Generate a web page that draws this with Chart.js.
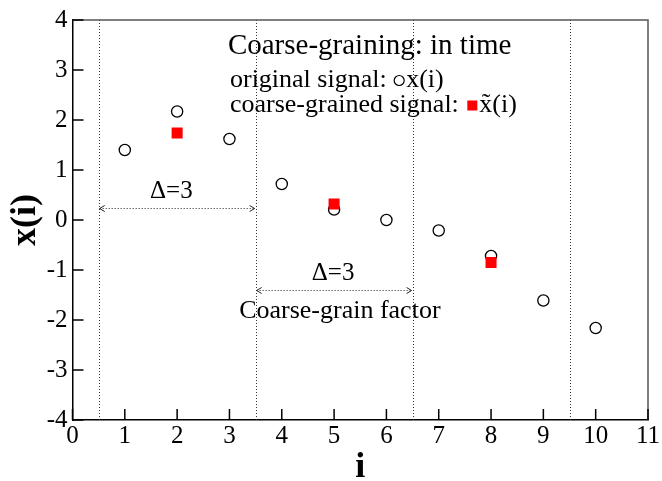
<!DOCTYPE html>
<html>
<head>
<meta charset="utf-8">
<script src="https://cdn.jsdelivr.net/npm/chart.js@4/dist/chart.umd.min.js"></script>
<style>
  html, body { margin: 0; padding: 0; background: #ffffff; }
  #wrap { width: 662px; height: 481px; position: relative; }
</style>
</head>
<body>
<div id="wrap"><canvas id="c"></canvas></div>
<script>
// time index and the original signal x(i)
const timeIndex = [1, 2, 3, 4, 5, 6, 7, 8, 9, 10];
const originalSignal = [1.40, 2.17, 1.62, 0.72, 0.21, 0.00, -0.21, -0.72, -1.61, -2.16];

// coarse-grained signal, one value per window of three samples
const coarseIndex = [2, 5, 8];
const coarseSignal = [1.74, 0.32, -0.85];

// window boundaries (dotted verticals)
const windowEdges = [0.5, 3.5, 6.5, 9.5];

// axis ranges
const xRange = [0, 11];
const yRange = [-4, 4];

const SERIF = "'Liberation Serif', 'Times New Roman', serif";
Chart.defaults.font.family = SERIF;
Chart.defaults.color = '#000';

const overlay = {
  id: 'overlay',
  beforeDatasetsDraw(chart) {
    const { ctx, chartArea: a, scales: { x, y } } = chart;
    ctx.save();

    // dotted window boundaries
    ctx.strokeStyle = '#333';
    ctx.lineWidth = 1;
    ctx.setLineDash([1, 2]);
    windowEdges.forEach(v => {
      const px = Math.round(x.getPixelForValue(v)) + 0.5;
      ctx.beginPath();
      ctx.moveTo(px, a.top);
      ctx.lineTo(px, a.bottom);
      ctx.stroke();
    });

    // dotted double arrows showing the window width
    const arrows = [
      { from: 0.5, to: 3.5, at: 0.25 },
      { from: 3.5, to: 6.5, at: -1.39 }
    ];
    arrows.forEach(ar => {
      const x1 = x.getPixelForValue(ar.from) + 1;
      const x2 = x.getPixelForValue(ar.to) - 1;
      const py = Math.round(y.getPixelForValue(ar.at)) + 0.5;
      ctx.setLineDash([1, 2]);
      ctx.strokeStyle = '#222';
      ctx.beginPath();
      ctx.moveTo(x1, py);
      ctx.lineTo(x2, py);
      ctx.stroke();
      ctx.setLineDash([]);
      ctx.beginPath();
      ctx.moveTo(x1 + 5, py - 3);
      ctx.lineTo(x1, py);
      ctx.lineTo(x1 + 5, py + 3);
      ctx.moveTo(x2 - 5, py - 3);
      ctx.lineTo(x2, py);
      ctx.lineTo(x2 - 5, py + 3);
      ctx.stroke();
    });
    ctx.setLineDash([]);

    // frame on top and right
    ctx.strokeStyle = '#555';
    ctx.lineWidth = 1.5;
    ctx.beginPath();
    ctx.moveTo(a.left, a.top);
    ctx.lineTo(a.right, a.top);
    ctx.lineTo(a.right, a.bottom);
    ctx.stroke();

    // inward tick marks
    ctx.strokeStyle = '#000';
    ctx.lineWidth = 1.5;
    ctx.beginPath();
    x.ticks.forEach(t => {
      const px = x.getPixelForValue(t.value);
      ctx.moveTo(px, a.bottom);
      ctx.lineTo(px, a.bottom - 11);
    });
    y.ticks.forEach(t => {
      const py = y.getPixelForValue(t.value);
      ctx.moveTo(a.left, py);
      ctx.lineTo(a.left + 11, py);
    });
    ctx.stroke();

    // annotations
    ctx.fillStyle = '#000';
    ctx.textBaseline = 'alphabetic';

    ctx.textAlign = 'left';
    ctx.font = '29px ' + SERIF;
    ctx.fillText('Coarse-graining: in time', x.getPixelForValue(2.97), y.getPixelForValue(3.33));

    ctx.font = '26px ' + SERIF;
    let lx = x.getPixelForValue(3.01);
    let ly = y.getPixelForValue(2.67);
    let s = 'original signal: ';
    ctx.fillText(s, lx, ly);
    let w = ctx.measureText(s).width;
    ctx.beginPath();
    ctx.lineWidth = 1.2;
    ctx.arc(lx + w + 6, ly - 6, 5, 0, Math.PI * 2);
    ctx.stroke();
    ctx.fillText('x(i)', lx + w + 13, ly);

    ly = y.getPixelForValue(2.17);
    s = 'coarse-grained signal: ';
    ctx.fillText(s, lx, ly);
    w = ctx.measureText(s).width;
    ctx.fillStyle = '#ff0000';
    ctx.fillRect(lx + w + 2, ly - 11, 10, 10);
    ctx.fillStyle = '#000';
    ctx.fillText('x\u0303(i)', lx + w + 14, ly);

    ctx.textAlign = 'center';
    ctx.font = '25px ' + SERIF;
    ctx.fillText('\u0394=3', x.getPixelForValue(1.89), y.getPixelForValue(0.45));
    ctx.fillText('\u0394=3', x.getPixelForValue(4.98), y.getPixelForValue(-1.19));
    ctx.font = '26px ' + SERIF;
    ctx.fillText('Coarse-grain factor', x.getPixelForValue(5.11), y.getPixelForValue(-1.96));

    ctx.restore();
  }
};

new Chart(document.getElementById('c'), {
  type: 'scatter',
  data: {
    datasets: [
      {
        label: 'coarse-grained signal',
        data: coarseIndex.map((v, i) => ({ x: v, y: coarseSignal[i] })),
        pointStyle: 'rect',
        pointRadius: 7.8,
        pointHoverRadius: 7.8,
        backgroundColor: '#ff0000',
        borderColor: '#ff0000',
        borderWidth: 0,
        order: 0
      },
      {
        label: 'original signal',
        data: timeIndex.map((v, i) => ({ x: v, y: originalSignal[i] })),
        pointStyle: 'circle',
        pointRadius: 5.6,
        pointHoverRadius: 5.6,
        backgroundColor: 'rgba(255,255,255,0)',
        borderColor: '#000',
        borderWidth: 1.3,
        order: 1
      }
    ]
  },
  options: {
    responsive: true,
    maintainAspectRatio: false,
    animation: false,
    events: [],
    layout: { padding: { top: 18, right: 14, bottom: 0, left: 0 } },
    plugins: { legend: { display: false }, tooltip: { enabled: false } },
    scales: {
      x: {
        type: 'linear',
        min: xRange[0],
        max: xRange[1],
        afterFit(scale) { scale.height = 61; },
        ticks: {
          stepSize: 1,
          padding: 1,
          color: '#000',
          font: { family: SERIF, size: 25, weight: 'normal' }
        },
        grid: { display: false, drawTicks: false },
        border: { display: true, color: '#000', width: 1.5 },
        title: {
          display: true,
          text: 'i',
          color: '#000',
          font: { family: SERIF, size: 36, weight: 'bold', lineHeight: 0.72 },
          padding: 0
        }
      },
      y: {
        type: 'linear',
        min: yRange[0],
        max: yRange[1],
        afterFit(scale) { scale.width = 72.5; },
        ticks: {
          stepSize: 1,
          padding: 5,
          color: '#000',
          font: { family: SERIF, size: 25, weight: 'normal' }
        },
        grid: { display: false, drawTicks: false },
        border: { display: true, color: '#000', width: 1.5 },
        title: {
          display: true,
          text: 'x(i)',
          color: '#000',
          font: { family: SERIF, size: 36, weight: 'bold', lineHeight: 1.2 },
          padding: { top: 4.5, bottom: 0 }
        }
      }
    }
  },
  plugins: [overlay]
});
</script>
</body>
</html>
